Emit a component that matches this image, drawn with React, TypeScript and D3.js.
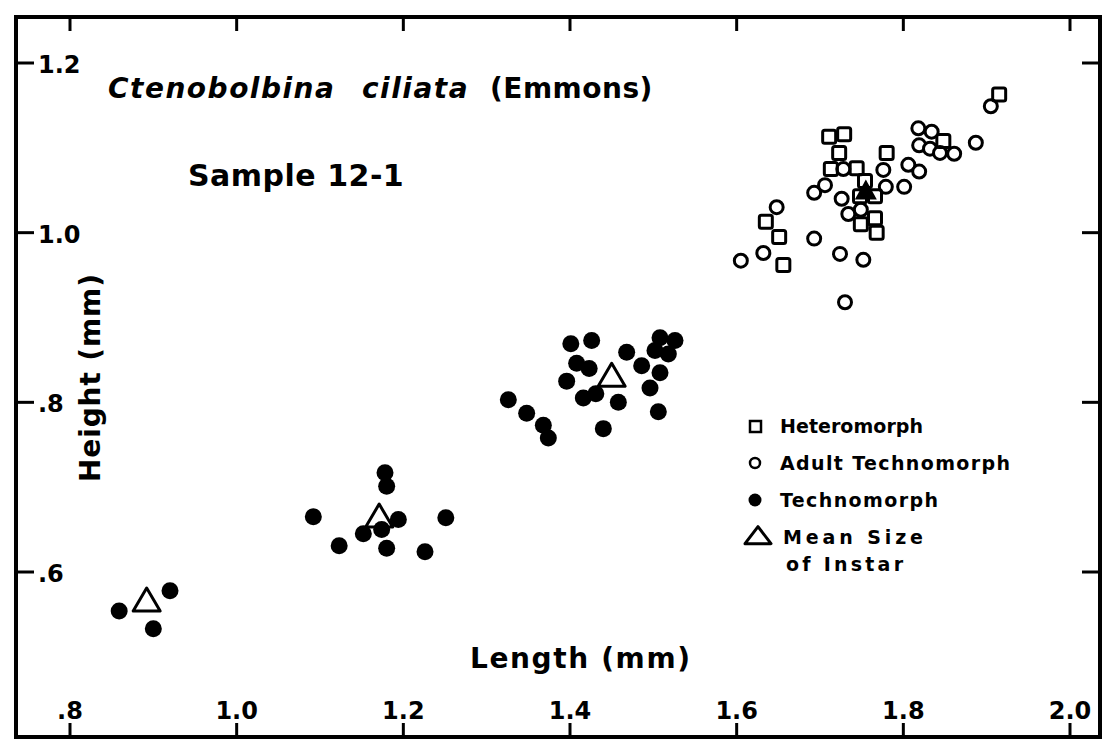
import React, { useEffect, useRef } from 'react';
import * as d3 from 'd3';

const width = 1109;
const height = 742;

// technomorph instars (filled dots)
const technoLength = [
  0.859, 0.900, 0.920,
  1.092, 1.123, 1.152, 1.178, 1.180, 1.174, 1.194, 1.180, 1.226, 1.251,
  1.326, 1.348, 1.368, 1.374, 1.401, 1.426, 1.408, 1.423, 1.396, 1.416, 1.431,
  1.458, 1.440, 1.468, 1.486, 1.496, 1.508, 1.506, 1.508, 1.526, 1.502, 1.518
];
const technoHeight = [
  0.554, 0.533, 0.578,
  0.665, 0.631, 0.645, 0.717, 0.701, 0.650, 0.662, 0.628, 0.624, 0.664,
  0.803, 0.787, 0.773, 0.758, 0.869, 0.873, 0.846, 0.840, 0.825, 0.805, 0.810,
  0.800, 0.769, 0.859, 0.843, 0.817, 0.835, 0.789, 0.876, 0.873, 0.861, 0.857
];

// adult technomorph (open circles)
const adultLength = [
  1.648, 1.632, 1.605, 1.693, 1.693, 1.706, 1.728, 1.726, 1.734, 1.749, 1.724, 1.752, 1.730,
  1.776, 1.779, 1.801, 1.806, 1.819, 1.818, 1.834, 1.819, 1.832, 1.844, 1.861, 1.887, 1.905
];
const adultHeight = [
  1.030, 0.976, 0.967, 0.993, 1.047, 1.056, 1.075, 1.040, 1.022, 1.027, 0.975, 0.968, 0.918,
  1.074, 1.054, 1.054, 1.080, 1.072, 1.123, 1.119, 1.103, 1.099, 1.094, 1.093, 1.106, 1.149
];

// heteromorph (open squares)
const heteroLength = [
  1.711, 1.729, 1.723, 1.713, 1.744, 1.780, 1.754, 1.748, 1.766, 1.749, 1.766, 1.768,
  1.635, 1.651, 1.656, 1.848, 1.915
];
const heteroHeight = [
  1.113, 1.116, 1.094, 1.075, 1.076, 1.094, 1.061, 1.043, 1.043, 1.010, 1.017, 1.000,
  1.013, 0.995, 0.962, 1.108, 1.163
];

// mean size of instar (open triangles), adult mean (filled triangle)
const meanLength = [0.892, 1.171, 1.450];
const meanHeight = [0.563, 0.662, 0.828];
const adultMeanLength = [1.755];
const adultMeanHeight = [1.047];

const xTicks = [0.8, 1.0, 1.2, 1.4, 1.6, 1.8, 2.0];
const xTickLabels = ['.8', '1.0', '1.2', '1.4', '1.6', '1.8', '2.0'];
const yTicks = [0.6, 0.8, 1.0, 1.2];
const yTickLabels = ['.6', '.8', '1.0', '1.2'];

const legendLabels = ['Heteromorph', 'Adult Technomorph', 'Technomorph', 'Mean Size', 'of Instar'];

const font = '"DejaVu Sans", sans-serif';

const App = () => {
  const ref = useRef<SVGSVGElement>(null);

  useEffect(() => {
    const svg = d3.select(ref.current);
    svg.selectAll('*').remove();

    const frame = { left: 16, right: 1100, top: 17, bottom: 737 };

    const x = d3.scaleLinear().domain([0.8, 2.0]).range([70, 1070]);
    const y = d3.scaleLinear().domain([0.6, 1.2]).range([572, 63]);

    const tri = (w: number, h: number) =>
      `M0,${-h * 2 / 3}L${w / 2},${h / 3}L${-w / 2},${h / 3}Z`;

    // frame
    svg.append('rect')
      .attr('x', frame.left).attr('y', frame.top)
      .attr('width', frame.right - frame.left)
      .attr('height', frame.bottom - frame.top)
      .attr('fill', 'none').attr('stroke', '#000').attr('stroke-width', 4);

    // ticks, all pointing inward
    const tk = svg.append('g').attr('stroke', '#000').attr('stroke-width', 3);
    xTicks.forEach(v => {
      tk.append('line').attr('x1', x(v)).attr('x2', x(v))
        .attr('y1', frame.bottom).attr('y2', frame.bottom - 14);
      tk.append('line').attr('x1', x(v)).attr('x2', x(v))
        .attr('y1', frame.top).attr('y2', frame.top + 14);
    });
    yTicks.forEach(v => {
      tk.append('line').attr('x1', frame.left).attr('x2', frame.left + 18)
        .attr('y1', y(v)).attr('y2', y(v));
      tk.append('line').attr('x1', frame.right).attr('x2', frame.right - 18)
        .attr('y1', y(v)).attr('y2', y(v));
    });

    const text = svg.append('g')
      .attr('font-family', font).attr('font-weight', 'bold').attr('fill', '#000');

    xTicks.forEach((v, i) => {
      text.append('text').attr('x', x(v)).attr('y', 719)
        .attr('text-anchor', 'middle').attr('font-size', 24)
        .text(xTickLabels[i]);
    });
    yTicks.forEach((v, i) => {
      text.append('text').attr('x', 38).attr('y', y(v) + 10)
        .attr('font-size', 24)
        .text(yTickLabels[i]);
    });

    // axis titles
    text.append('text').attr('x', 470).attr('y', 668)
      .attr('font-size', 28).attr('textLength', 220).attr('lengthAdjust', 'spacing')
      .text('Length (mm)');
    text.append('text')
      .attr('transform', 'translate(100,482) rotate(-90)')
      .attr('font-size', 28).attr('textLength', 208).attr('lengthAdjust', 'spacing')
      .text('Height (mm)');

    // title
    const title = text.append('text').attr('y', 98).attr('font-size', 28)
      .attr('letter-spacing', 1.5);
    title.append('tspan').attr('x', 108).attr('font-style', 'italic').text('Ctenobolbina');
    title.append('tspan').attr('x', 362).attr('font-style', 'italic').text('ciliata');
    title.append('tspan').attr('x', 490).attr('letter-spacing', 0.5).text('(Emmons)');

    text.append('text').attr('x', 188).attr('y', 186)
      .attr('font-size', 30).attr('letter-spacing', 0.5)
      .text('Sample 12-1');

    // data
    const pts = svg.append('g');
    pts.selectAll('.techno')
      .data(d3.zip(technoLength, technoHeight))
      .join('circle')
      .attr('cx', d => x(d[0])).attr('cy', d => y(d[1]))
      .attr('r', 8.5).attr('fill', '#000');

    pts.selectAll('.adult')
      .data(d3.zip(adultLength, adultHeight))
      .join('circle')
      .attr('cx', d => x(d[0])).attr('cy', d => y(d[1]))
      .attr('r', 6.5).attr('fill', '#fff').attr('stroke', '#000').attr('stroke-width', 3);

    pts.selectAll('.hetero')
      .data(d3.zip(heteroLength, heteroHeight))
      .join('rect')
      .attr('x', d => x(d[0]) - 6.5).attr('y', d => y(d[1]) - 6.5)
      .attr('width', 13).attr('height', 13).attr('rx', 2)
      .attr('fill', 'none').attr('stroke', '#000').attr('stroke-width', 3);

    pts.selectAll('.mean')
      .data(d3.zip(meanLength, meanHeight))
      .join('path')
      .attr('transform', d => `translate(${x(d[0])},${y(d[1])})`)
      .attr('d', tri(27, 23))
      .attr('fill', 'none').attr('stroke', '#000').attr('stroke-width', 3)
      .attr('stroke-linejoin', 'round');

    pts.selectAll('.adultmean')
      .data(d3.zip(adultMeanLength, adultMeanHeight))
      .join('path')
      .attr('transform', d => `translate(${x(d[0])},${y(d[1])})`)
      .attr('d', tri(22, 20))
      .attr('fill', '#000');

    // legend
    const lg = svg.append('g');
    lg.append('rect').attr('x', 750).attr('y', 421).attr('width', 11).attr('height', 11)
      .attr('fill', 'none').attr('stroke', '#000').attr('stroke-width', 2.5);
    lg.append('circle').attr('cx', 755).attr('cy', 463).attr('r', 5)
      .attr('fill', 'none').attr('stroke', '#000').attr('stroke-width', 2.5);
    lg.append('circle').attr('cx', 755).attr('cy', 500).attr('r', 6.5).attr('fill', '#000');
    lg.append('path').attr('transform', 'translate(758,538)').attr('d', tri(26, 17))
      .attr('fill', 'none').attr('stroke', '#000').attr('stroke-width', 3)
      .attr('stroke-linejoin', 'round');

    const lt = lg.append('g').attr('font-family', font).attr('font-weight', 'bold')
      .attr('font-size', 19).attr('fill', '#000');
    const rowX = [780, 780, 780, 783, 786];
    const rowY = [433, 470, 507, 544, 571];
    const rowW = [143, 230, 158, 140, 117];
    legendLabels.forEach((s, i) => {
      lt.append('text').attr('x', rowX[i]).attr('y', rowY[i])
        .attr('textLength', rowW[i]).attr('lengthAdjust', 'spacing').text(s);
    });
  }, []);

  return (
    <svg ref={ref} width={width} height={height}
      style={{ position: 'absolute', left: 0, top: 0, background: '#fff' }} />
  );
};

export default App;
